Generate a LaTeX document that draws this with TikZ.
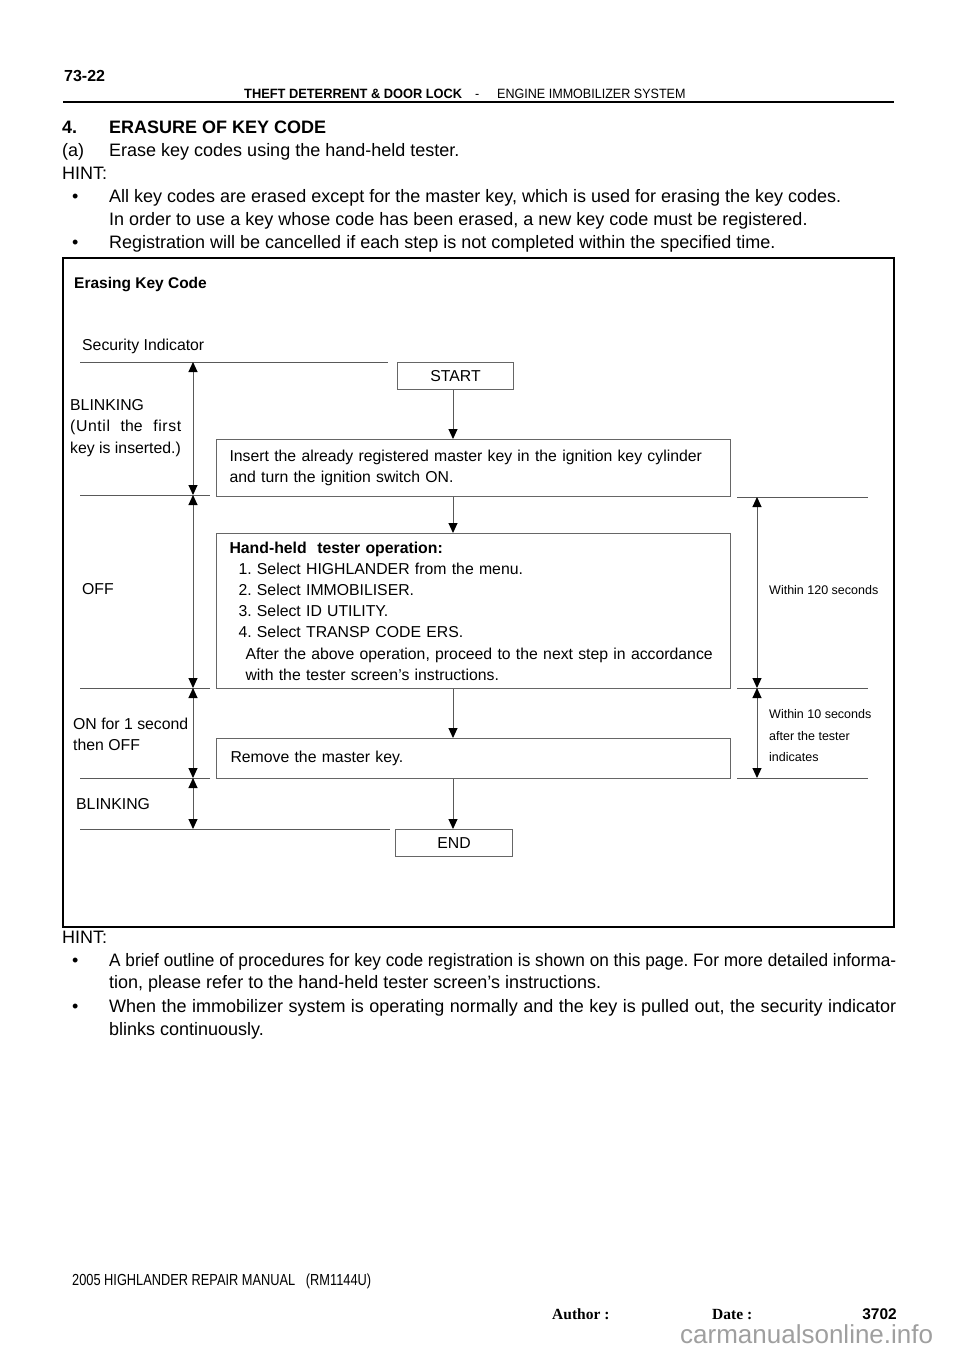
\documentclass[tikz,border=0pt]{standalone}
\usepackage{graphicx}
\usepackage{fontspec}
\setmainfont{Liberation Sans}
\newfontfamily\hdbfont[FakeStretch=0.95]{Liberation Sans}
\newfontfamily\hdfont[FakeStretch=0.93]{Liberation Sans}
\newfontfamily\ftfont[FakeStretch=0.8]{Liberation Sans}
\newfontfamily\timesfont{Liberation Serif}
\usetikzlibrary{arrows.meta}
\definecolor{boxgray}{gray}{0.4}
\definecolor{linegray}{gray}{0.35}
\begin{document}
\frenchspacing
\begin{tikzpicture}[x=1pt,y=-1pt,
  txt/.style={anchor=base west, inner sep=0pt, font=\fontsize{18}{22}\selectfont},
  dtxt/.style={anchor=base west, inner sep=0pt, font=\fontsize{15.8}{21}\selectfont},
  stxt/.style={anchor=base west, inner sep=0pt, font=\fontsize{12.5}{21}\selectfont},
  box/.style={draw=boxgray, line width=1pt, inner sep=0pt, font=\fontsize{15.8}{21.2}\selectfont},
  sep/.style={draw=linegray, line width=1pt},
  arr/.style={draw=linegray, line width=1pt, -{Triangle[length=10pt,width=9pt,color=black]}},
  darr/.style={draw=linegray, line width=1pt, {Triangle[length=10pt,width=9pt,color=black]}-{Triangle[length=10pt,width=9pt,color=black]}}
]
\useasboundingbox (0,0) rectangle (960,1358);
\fill[white] (0,0) rectangle (960,1358);

% header
\node[anchor=base west, inner sep=0pt, font=\fontsize{16}{18}\selectfont\bfseries] (pg) at (64,81) {73-22};
\node[anchor=base west, inner sep=0pt, font=\fontsize{13.5}{18}\selectfont\hdbfont\bfseries] (hd1) at (244,98) {THEFT DETERRENT \& DOOR LOCK};
\node[anchor=base west, inner sep=0pt, font=\fontsize{13.5}{18}\selectfont\hdfont] (hd2) at (475,98) {-};
\node[anchor=base west, inner sep=0pt, font=\fontsize{13.5}{18}\selectfont\hdfont] (hd3) at (497,98) {ENGINE IMMOBILIZER SYSTEM};
\draw[line width=2pt] (63,102) -- (894,102);

% top text
\node[txt, font=\fontsize{18}{22}\selectfont\bfseries] (n4) at (62,133) {4.};
\node[txt, font=\fontsize{18}{22}\selectfont\bfseries] (t4) at (109,133) {ERASURE OF KEY CODE};
\node[txt] (na) at (62,156) {(a)};
\node[txt] (ta) at (109,156) {Erase key codes using the hand-held tester.};
\node[txt] (h1) at (62,179) {HINT:};
\node[txt] (b1d) at (72,202) {•};
\node[txt] (b1a) at (109,202) {All key codes are erased except for the master key, which is used for erasing the key codes.};
\node[txt] (b1b) at (109,225) {In order to use a key whose code has been erased, a new key code must be registered.};
\node[txt] (b2d) at (72,248) {•};
\node[txt] (b2a) at (109,248) {Registration will be cancelled if each step is not completed within the specified time.};

% frame
\draw[line width=1.5pt] (63,258) rectangle (894,927);
\node[anchor=base west, inner sep=0pt, font=\fontsize{15.5}{18}\selectfont\bfseries] (ttl) at (74,288) {Erasing Key Code};
\node[dtxt] (si) at (82,350) {Security Indicator};

% boxes
\node[box, anchor=north west, minimum width=116pt, minimum height=27pt] (start) at (397,362) {START};
\node[box, anchor=north west, minimum width=514pt, minimum height=57pt, text width=488pt, align=left] (s1) at (216,439)
  {Insert the already registered master key in the ignition key cylinder\\and turn the ignition switch ON.};
\node[box, anchor=north west, minimum width=514pt, minimum height=155pt, text width=488pt, align=left] (s2) at (216,533)
  {\textbf{Hand-held\ \ tester operation:}\\
   \hspace*{9pt}1. Select HIGHLANDER from the menu.\\
   \hspace*{9pt}2. Select IMMOBILISER.\\
   \hspace*{9pt}3. Select ID UTILITY.\\
   \hspace*{9pt}4. Select TRANSP CODE ERS.\\
   \hspace*{16pt}After the above operation, proceed to the next step in accordance\\
   \hspace*{16pt}with the tester screen’s instructions.};
\node[box, anchor=north west, minimum width=514pt, minimum height=40pt, text width=486pt, align=left] (s3) at (216,738)
  {Remove the master key.};
\node[box, anchor=north west, minimum width=117pt, minimum height=27pt] (end) at (395,829) {END};

\coordinate (ax) at (453,0);
\draw[arr] (start.south -| ax) -- (s1.north -| ax);
\draw[arr] (s1.south -| ax) -- (s2.north -| ax);
\draw[arr] (s2.south -| ax) -- (s3.north -| ax);
\draw[arr] (s3.south -| ax) -- (end.north -| ax);

% left indicator scale
\draw[sep] (80,362) -- (388,362);
\draw[sep] (80,495) -- (210,495);
\draw[sep] (80,688) -- (210,688);
\draw[sep] (80,778) -- (210,778);
\draw[sep] (80,829) -- (390,829);
\coordinate (L0) at (193,362);
\coordinate (L1) at (193,495);
\coordinate (L2) at (193,688);
\coordinate (L3) at (193,778);
\coordinate (L4) at (193,829);
\draw[darr] (L0) -- (L1);
\draw[darr] (L1) -- (L2);
\draw[darr] (L2) -- (L3);
\draw[darr] (L3) -- (L4);

\node[dtxt] (bl1) at (70,410) {BLINKING};
\node[dtxt] (bl2) at (70,431) {\makebox[111pt][s]{(\hspace{0.6pt}U\hspace{0.6pt}n\hspace{0.6pt}t\hspace{0.6pt}i\hspace{0.6pt}l the f\hspace{0.6pt}i\hspace{0.6pt}r\hspace{0.6pt}s\hspace{0.6pt}t}};
\node[dtxt] (bl3) at (70,453) {key is inserted.)};
\node[dtxt] (off) at (82,594) {OFF};
\node[dtxt] (on1) at (73,729) {ON for 1 second};
\node[dtxt] (on2) at (73,750) {then OFF};
\node[dtxt] (bl4) at (76,809) {BLINKING};

% right time scale
\draw[sep] (737,497) -- (868,497);
\draw[sep] (737,688) -- (868,688);
\draw[sep] (737,778) -- (868,778);
\coordinate (R1) at (757,497);
\coordinate (R2) at (757,688);
\coordinate (R3) at (757,778);
\draw[darr] (R1) -- (R2);
\draw[darr] (R2) -- (R3);
\node[stxt] (w1) at (769,594) {Within 120 seconds};
\node[stxt] (w2) at (769,718) {Within 10 seconds};
\node[stxt] (w3) at (769,740) {after the tester};
\node[stxt] (w4) at (769,761) {indicates};

% bottom text
\node[txt] (h2) at (62,943) {HINT:};
\node[txt] (c1d) at (72,966) {•};
\node[txt] (c1a) at (109,966) {\resizebox{787pt}{\height}{A brief outline of procedures for key code registration is shown on this page. For more detailed informa-}};
\node[txt] (c1b) at (109,988) {tion, please refer to the hand-held tester screen’s instructions.};
\node[txt] (c2d) at (72,1012) {•};
\node[txt] (c2a) at (109,1012) {\makebox[787pt][s]{When the immobilizer system is operating normally and the key is pulled out, the security indicator}};
\node[txt] (c2b) at (109,1035) {blinks continuously.};

% footer
\node[anchor=base west, inner sep=0pt, font=\fontsize{16}{18}\selectfont\ftfont] (ft) at (72,1285) {2005 HIGHLANDER REPAIR MANUAL\ \ \ (RM1144U)};
\node[anchor=base west, inner sep=0pt, font=\fontsize{15.5}{18}\selectfont\timesfont\bfseries] (au) at (552,1319) {Author :};
\node[anchor=base west, inner sep=0pt, font=\fontsize{15.5}{18}\selectfont\timesfont\bfseries] (dt) at (712,1319) {Date :};
\node[anchor=base east, inner sep=0pt, font=\fontsize{15.5}{18}\selectfont\bfseries] (pn) at (897,1319) {3702};
\node[anchor=base west, inner sep=0pt, text=gray!75, font=\fontsize{26}{28}\selectfont] (wm) at (680,1343) {carmanualsonline.info};
\end{tikzpicture}
\end{document}
